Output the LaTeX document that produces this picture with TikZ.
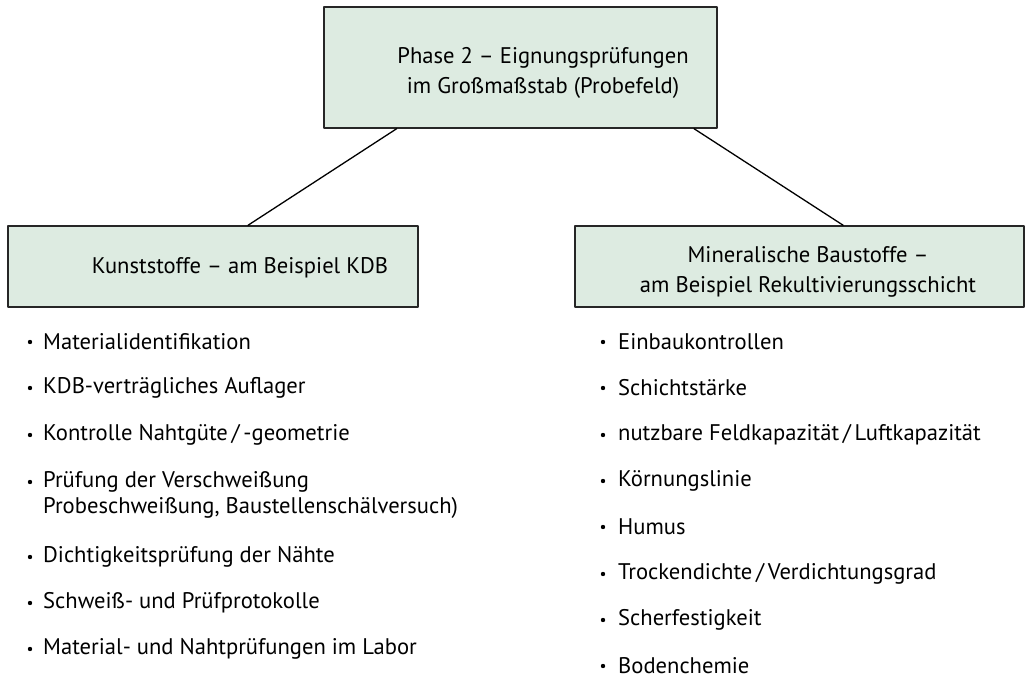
\documentclass[tikz,border=0pt]{standalone}
\usepackage{fontspec}
\setmainfont{PT Sans}
\usetikzlibrary{calc,positioning}
\definecolor{boxgreen}{RGB}{221,235,225}

\begin{document}
\begin{tikzpicture}[x=1pt,y=-1pt,line cap=round,line join=round,
	box/.style={draw=black!85,line width=1.4pt,fill=boxgreen,inner sep=0pt},
	boxtext/.style={align=center,inner sep=0pt,font=\fontsize{22.6}{30}\selectfont},
	entry/.style={anchor=west,align=left,inner sep=0pt,font=\fontsize{22.6}{26.5}\selectfont},
	dot/.style={circle,fill=black,inner sep=0pt,minimum size=4.4pt},
	link/.style={line width=1.3pt}]
	\useasboundingbox (0,0) rectangle (1026,679);

	% boxes
	\node[box,minimum width=393pt,minimum height=121pt] (phase) at (520.5,67.5) {};
	\node[box,minimum width=410pt,minimum height=81pt] (kunst) at (213,266.5) {};
	\node[box,minimum width=449pt,minimum height=81pt] (mineral) at (799.5,266.5) {};
	\node[boxtext] (phaset) at (543,72.5) {Phase 2 -- Eignungsprüfungen\\im Großmaßstab (Probefeld)};
	\node[boxtext] (kunstt) at (240,268) {Kunststoffe -- am Beispiel KDB};
	\node[boxtext] (mineralt) at (808,272) {Mineralische Baustoffe --\\am Beispiel Rekultivierungsschicht};

	% connectors
	\coordinate (pl) at ($(phase.south west)!0.186!(phase.south east)$);
	\coordinate (pr) at ($(phase.south west)!0.94!(phase.south east)$);
	\coordinate (kt) at ($(kunst.north west)!0.585!(kunst.north east)$);
	\coordinate (mt) at ($(mineral.north west)!0.597!(mineral.north east)$);
	\draw[link] (pl) -- (kt);
	\draw[link] (pr) -- (mt);

	% left list
	\foreach \n/\by/\ty/\txt in {1/342/342/{Materialidentifikation},
		2/388/388/{KDB-verträgliches Auflager},
		3/435/435/{Kontrolle Nahtgüte\,/\,-geometrie},
		4/482/495/{Prüfung der Verschweißung\\Probeschweißung, Baustellenschälversuch)},
		5/557/557/{Dichtigkeitsprüfung der Nähte},
		6/603/603/{Schweiß- und Prüfprotokolle},
		7/649/649/{Material- und Nahtprüfungen im Labor}}{
		\node[dot] (ld\n) at (30,\by) {};
		\node[entry] (li\n) at (43,\ty) {\txt};
	}

	% right list
	\foreach \n/\y/\txt in {1/342/{Einbaukontrollen},
		2/388/{Schichtstärke},
		3/435/{nutzbare Feldkapazität\,/\,Luftkapazität},
		4/481/{Körnungslinie},
		5/527/{Humus},
		6/574/{Trockendichte\,/\,Verdichtungsgrad},
		7/620/{Scherfestigkeit},
		8/666/{Bodenchemie}}{
		\node[dot] (rd\n) at (603,\y) {};
		\node[entry] (ri\n) at (618,\y) {\txt};
	}
\end{tikzpicture}
\end{document}
